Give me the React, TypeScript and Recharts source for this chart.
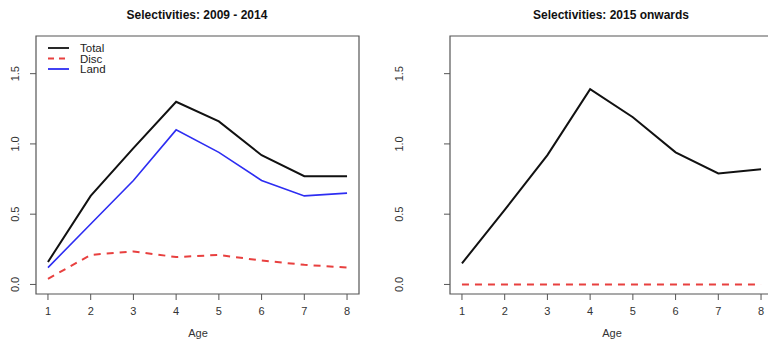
import React from "react"
import { LineChart, Line, XAxis, YAxis, ReferenceArea, Legend } from "recharts"

const ages = [1, 2, 3, 4, 5, 6, 7, 8]
const total0914 = [0.16, 0.63, 0.97, 1.3, 1.16, 0.92, 0.77, 0.77]
const disc0914 = [0.04, 0.21, 0.235, 0.195, 0.21, 0.17, 0.14, 0.12]
const land0914 = [0.12, 0.43, 0.74, 1.1, 0.94, 0.74, 0.63, 0.65]
const total2015 = [0.15, 0.53, 0.92, 1.39, 1.19, 0.94, 0.79, 0.82]
const disc2015 = [0, 0, 0, 0, 0, 0, 0, 0]
const yTicks = [0, 0.5, 1, 1.5]

// R's default 4% padding around xlim c(1,8), ylim c(0,1.7)
const xDomain: [number, number] = [0.72, 8.28]
const yDomain: [number, number] = [-0.068, 1.768]

const early = ages.map((a, i) => ({ age: a, total: total0914[i], disc: disc0914[i], land: land0914[i] }))
const late = ages.map((a, i) => ({ age: a, total: total2015[i], disc: disc2015[i] }))

const FONT = '"Liberation Sans", Arial, Helvetica, sans-serif'
const BLACK = "#111"
const RED = "#e8403f"
const BLUE = "#2d2df2"
const AXIS = "#555"

const YTick = (props: any) => {
  const { x, y, payload } = props
  return (
    <text x={x} y={y} transform={`rotate(-90 ${x} ${y})`} textAnchor="middle"
      fontSize={11} fill="#333" fontFamily={FONT}>
      {payload.value.toFixed(1)}
    </text>
  )
}

const legendItems = [
  { name: "Total", color: BLACK, dash: undefined },
  { name: "Disc", color: RED, dash: "6 5" },
  { name: "Land", color: BLUE, dash: undefined },
]

const renderLegend = () => (
  <svg width={80} height={36}>
    {legendItems.map((it, i) => (
      <g key={it.name}>
        <line x1={4} x2={25} y1={7 + i * 10.5} y2={7 + i * 10.5} stroke={it.color}
          strokeWidth={1.8} strokeDasharray={it.dash} />
        <text x={36} y={7 + i * 10.5} dy="0.35em" fontSize={11.5} fill="#222" fontFamily={FONT}>
          {it.name}
        </text>
      </g>
    ))}
  </svg>
)

const title: React.CSSProperties = {
  position: "absolute", top: 7, width: 300, textAlign: "center",
  fontSize: 12, fontWeight: "bold", lineHeight: "16px", color: "#111",
}
const ageLabel: React.CSSProperties = {
  position: "absolute", top: 326, width: 100, textAlign: "center",
  fontSize: 11, lineHeight: "14px", color: "#333",
}

function Panel({ data, width, yWidth, showLand }: { data: any[]; width: number; yWidth: number; showLand: boolean }) {
  return (
    <LineChart width={width} height={342} data={data} margin={{ top: 36, right: 25, bottom: 0, left: 0 }}>
      <XAxis dataKey="age" type="number" domain={xDomain} ticks={ages} allowDataOverflow
        height={48} tickSize={6} tickMargin={7} axisLine={false} tickLine={{ stroke: AXIS }}
        tick={{ fontSize: 11, fill: "#333", fontFamily: FONT }} />
      <YAxis type="number" domain={yDomain} ticks={yTicks} allowDataOverflow width={yWidth}
        tickSize={6} tickMargin={yWidth - 25} axisLine={false} tickLine={{ stroke: AXIS }} tick={<YTick />} />
      <ReferenceArea x1={xDomain[0]} x2={xDomain[1]} y1={yDomain[0]} y2={yDomain[1]}
        fill="none" stroke={AXIS} strokeWidth={1.2} />
      <Line dataKey="total" name="Total" stroke={BLACK} strokeWidth={2} dot={false} isAnimationActive={false} />
      <Line dataKey="disc" name="Disc" stroke={RED} strokeWidth={2} strokeDasharray="7 6" dot={false} isAnimationActive={false} />
      {showLand && (
        <Line dataKey="land" name="Land" stroke={BLUE} strokeWidth={1.6} dot={false} isAnimationActive={false} />
      )}
      {showLand && (
        <Legend layout="vertical" align="center" verticalAlign="middle" content={renderLegend}
          wrapperStyle={{ left: 44, top: 41, width: 80, height: 36 }} />
      )}
    </LineChart>
  )
}

export default function App() {
  return (
    <div style={{ position: "fixed", left: 0, top: 0, width: 768, height: 342, overflow: "hidden", background: "#fff", fontFamily: FONT }}>
      <div style={{ position: "absolute", left: 0, top: 0 }}>
        <Panel data={early} width={384} yWidth={36} showLand />
      </div>
      <div style={{ position: "absolute", left: 384, top: 0 }}>
        <Panel data={late} width={414} yWidth={66} showLand={false} />
      </div>
      <div style={{ ...title, left: 47 }}>Selectivities: 2009 - 2014</div>
      <div style={{ ...title, left: 461 }}>Selectivities: 2015 onwards</div>
      <div style={{ ...ageLabel, left: 148 }}>Age</div>
      <div style={{ ...ageLabel, left: 562 }}>Age</div>
    </div>
  )
}
